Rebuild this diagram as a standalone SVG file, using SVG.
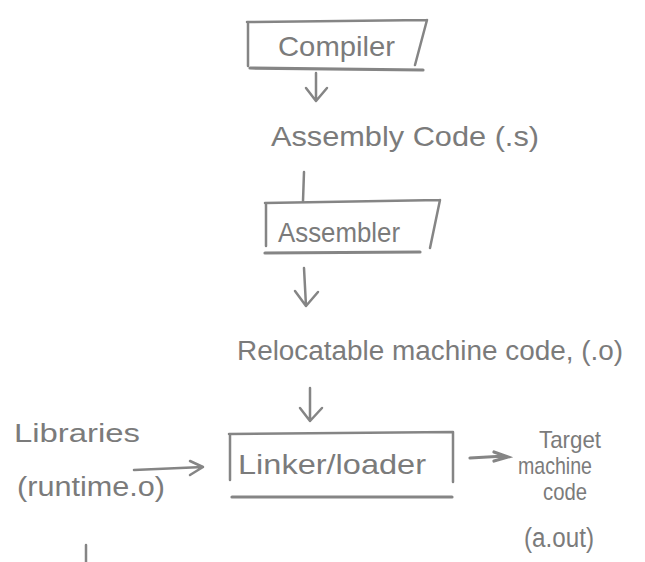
<svg xmlns="http://www.w3.org/2000/svg" width="645" height="562" viewBox="0 0 645 562">
<style>
.t{font-family:"Liberation Sans","DejaVu Sans",sans-serif;fill:#7b7b7b;}
.s{fill:none;stroke:#858585;stroke-width:2.5;stroke-linecap:round;stroke-linejoin:round;}
.b{fill:none;stroke:#858585;stroke-width:3.2;stroke-linecap:round;}
</style>
<rect width="645" height="562" fill="#ffffff"/>
<g id="compiler">
<path class="s" d="M247,22 L427,20 M248,22 L248,66 M427,20 L415,65"/>
<path class="b" d="M250,68 L423,70"/>
<text class="t" x="278" y="56" font-size="28" textLength="117" lengthAdjust="spacingAndGlyphs">Compiler</text>
</g>
<g id="assembly-code">
<text class="t" x="271" y="146" font-size="28" textLength="268" lengthAdjust="spacingAndGlyphs">Assembly Code (.s)</text>
</g>
<g id="assembler">
<path class="s" d="M265,203 L440,200 M266,203 L266,246 M440,200 L430,248"/>
<path class="b" d="M265,253 L420,252"/>
<text class="t" x="278" y="242" font-size="27" textLength="122" lengthAdjust="spacingAndGlyphs">Assembler</text>
</g>
<g id="relocatable">
<text class="t" x="237" y="360" font-size="27" textLength="386" lengthAdjust="spacingAndGlyphs">Relocatable machine code, (.o)</text>
</g>
<g id="linker">
<path class="s" d="M229,434 L453,432 M230,434 L230,480 M453,432 L453,482"/>
<path class="b" d="M232,497 L452,497"/>
<text class="t" x="238" y="474" font-size="28" textLength="188" lengthAdjust="spacingAndGlyphs">Linker/loader</text>
</g>
<g id="libraries">
<text class="t" x="14" y="442" font-size="25" textLength="126" lengthAdjust="spacingAndGlyphs">Libraries</text>
<text class="t" x="17" y="496" font-size="27" textLength="148" lengthAdjust="spacingAndGlyphs">(runtime.o)</text>
</g>
<g id="target">
<text class="t" x="539" y="448" font-size="24" textLength="62" lengthAdjust="spacingAndGlyphs">Target</text>
<text class="t" x="518" y="474" font-size="24" textLength="74" lengthAdjust="spacingAndGlyphs">machine</text>
<text class="t" x="543" y="500" font-size="24" textLength="44" lengthAdjust="spacingAndGlyphs">code</text>
<text class="t" x="524" y="547" font-size="27" textLength="70" lengthAdjust="spacingAndGlyphs">(a.out)</text>
</g>
<g id="connectors">
<path class="s" d="M316,73 L316,100 M306,88 L316,101 L327,88"/>
<path class="s" d="M304,172 L303,201"/>
<path class="s" d="M304,268 L306,306 M295,291 L306,306 L318,292"/>
<path class="s" d="M310,388 L310,421 M300,408 L310,421 L322,408"/>
<path class="s" d="M134,470 L203,467 M190,461 L203,467 L190,475"/>
<path class="b" d="M470,458 L505,456 M494,452 L508,457 L494,461"/>
<path class="s" d="M86,545 L86,562"/>
</g>
</svg>
